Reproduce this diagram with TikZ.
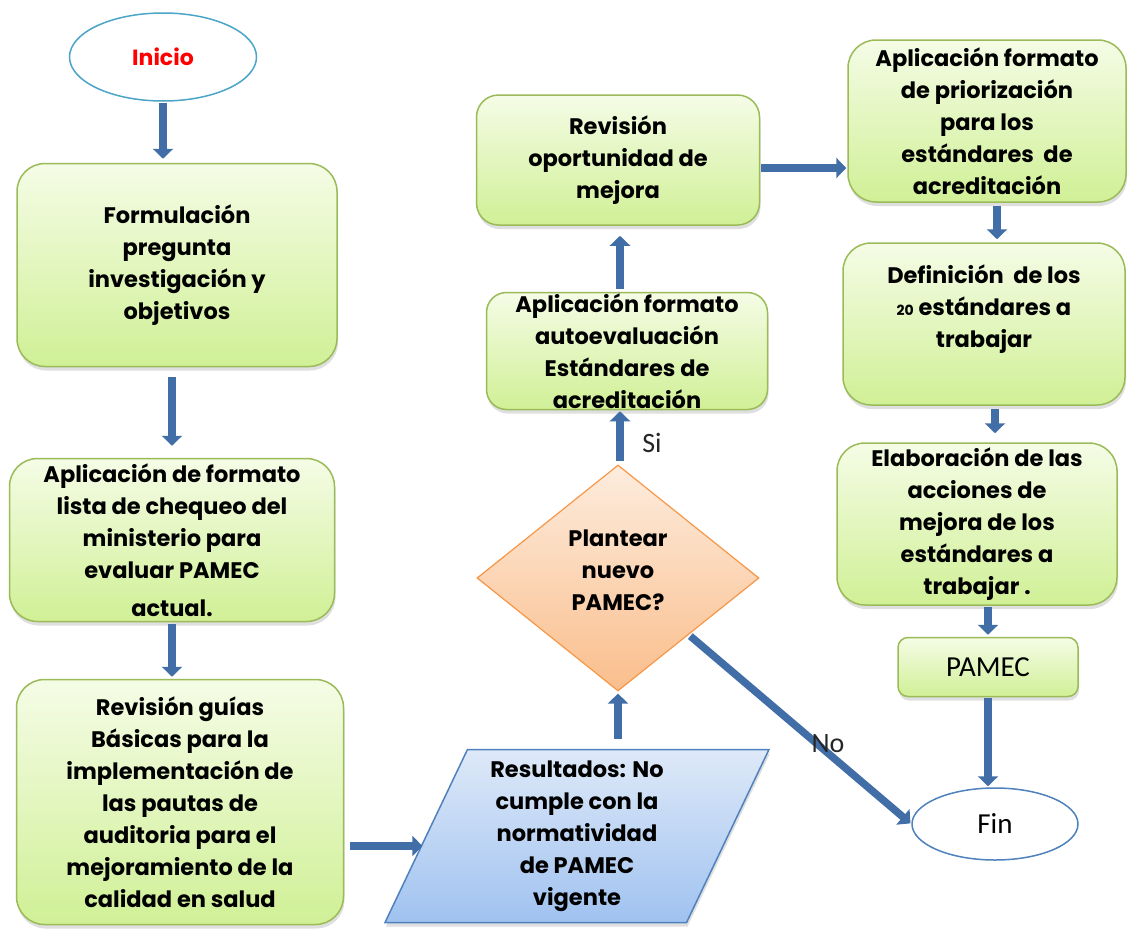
\documentclass[tikz,border=0pt]{standalone}
\usepackage{fontspec}
\newfontfamily\gothic{Poppins}
\newfontfamily\calib{Carlito}
\usetikzlibrary{arrows.meta,shapes.geometric,shadows,calc}
\definecolor{arrblue}{RGB}{66,110,168}
\definecolor{grborder}{RGB}{155,187,89}
\definecolor{grtop}{RGB}{245,252,230}
\definecolor{grbot}{RGB}{208,240,150}
\definecolor{ortop}{RGB}{253,236,222}
\definecolor{orbot}{RGB}{250,190,140}
\definecolor{orborder}{RGB}{247,150,70}
\definecolor{bltop}{RGB}{222,233,248}
\definecolor{blbot}{RGB}{160,194,240}
\definecolor{blborder}{RGB}{79,129,189}
\definecolor{tealb}{RGB}{75,165,200}
\begin{document}
\begin{tikzpicture}[x=1pt,y=-1pt,
  txt/.style={font=\gothic\bfseries\fontsize{22.5}{32}\selectfont, align=center},
  gbox/.style={txt, draw=grborder, line width=1.5pt, top color=grtop, bottom color=grbot,
     rounded corners=28pt, inner sep=0pt,
     drop shadow={opacity=0.25, shadow xshift=1pt, shadow yshift=-4pt}},
  arr/.style={draw=arrblue, line width=7.5pt, -{Triangle[width=20pt,length=10pt]}},
  lbl/.style={font=\calib\fontsize{28}{30}\selectfont, text=black!85}
]
\useasboundingbox (0,0) rectangle (1127,929);
% ---- nodes
\node[ellipse, draw=tealb, line width=1.5pt, fill=white, minimum width=187pt, minimum height=88pt,
  font=\gothic\bfseries\fontsize{22}{24}\selectfont, text=red] (inicio) at (163,57) {Inicio};
\node[gbox, minimum width=320pt, minimum height=203pt] (form) at (177,265)
  {Formulación\\pregunta\\investigación y\\objetivos};
\node[gbox, minimum width=325pt, minimum height=163pt] (lista) at (172,540)
  {Aplicación de formato\\lista de chequeo del\\ministerio para\\evaluar PAMEC\\[6pt]actual.};
\node[gbox, minimum width=327pt, minimum height=245pt] (guias) at (180,802)
  {Revisión guías\\Básicas para la\\implementación de\\las pautas de\\auditoria para el\\mejoramiento de la\\calidad en salud};
\node[txt, trapezium, trapezium left angle=66.6, trapezium right angle=113.4, trapezium stretches=true,
  minimum width=385pt, minimum height=173pt, inner sep=0pt, draw=blborder, line width=1.5pt,
  top color=bltop, bottom color=blbot,
  drop shadow={opacity=0.25, shadow xshift=1pt, shadow yshift=-4pt}] (res) at (577,836)
  {Resultados: No\\cumple con la\\normatividad\\de PAMEC\\vigente};
\node[txt, diamond, minimum width=282pt, minimum height=226pt, inner sep=0pt, draw=orborder, line width=1.2pt,
  top color=ortop, bottom color=orbot] (dia) at (618,578) {};
\node[txt] (diat) at (618,570) {Plantear\\nuevo\\PAMEC?};
\node[gbox, rounded corners=20pt, minimum width=281pt, minimum height=117pt] (auto) at (627,351)
  {Aplicación formato\\autoevaluación\\Estándares de\\acreditación};
\node[gbox, rounded corners=22pt, minimum width=283pt, minimum height=130pt] (oport) at (618,160)
  {Revisión\\oportunidad de\\mejora};
\node[gbox, minimum width=278pt, minimum height=162pt] (prior) at (987,121)
  {Aplicación formato\\de priorización\\para los\\estándares \ de\\acreditación};
\node[gbox, minimum width=282pt, minimum height=162pt] (defin) at (984,324)
  {Definición \ de los\\{\fontsize{14}{14}\selectfont 20} estándares a\\trabajar\\[4pt]};
\node[gbox, minimum width=280pt, minimum height=162pt] (elab) at (977,524)
  {Elaboración de las\\acciones de\\mejora de los\\estándares a\\trabajar .};
\node[gbox, rounded corners=10pt, minimum width=180pt, minimum height=59pt,
  font=\calib\fontsize{29}{30}\selectfont] (pamec) at (988,667) {PAMEC};
\node[ellipse, draw=blborder, line width=1.5pt, fill=white, minimum width=166pt, minimum height=72pt,
  font=\calib\fontsize{29}{30}\selectfont] (fin) at (995,824) {Fin};
% ---- connectors
\draw[arr, shorten <=1pt, shorten >=4pt] (inicio.south) -- (form.north -| inicio.south);
\draw[arr, shorten <=10pt, shorten >=12pt] (lista.north |- form.south) -- (lista.north);
\draw[arr, shorten <=2pt, shorten >=2pt] (lista.south) -- (lista.south |- guias.north);
\draw[arr, shorten <=6pt, shorten >=3pt] ([yshift=-10pt]guias.east |- res.west) -- ([yshift=-10pt]res.west);
\draw[arr, shorten <=10pt, shorten >=2pt] (dia.south |- res.north) -- (dia.south);
\draw[arr, shorten <=3pt, shorten >=1pt] ([xshift=2pt]dia.north) -- ([xshift=2pt]dia.north |- auto.south);
\node[lbl] (si) at (652,443) {Si};
\draw[arr, shorten <=3pt, shorten >=10pt] ([xshift=2pt]oport.south |- auto.north) -- ([xshift=2pt]oport.south);
\draw[arr, shorten <=1pt, shorten >=1pt] ([yshift=-8pt]oport.east) -- ([yshift=-8pt]oport.east -| prior.west);
\draw[arr, shorten <=3pt, shorten >=3pt] ([xshift=10pt]prior.south) -- ([xshift=10pt]prior.south |- defin.north);
\draw[arr, shorten <=3pt, shorten >=9pt] ([xshift=11pt]defin.south) -- ([xshift=11pt]defin.south |- elab.north);
\draw[arr, shorten <=1pt, shorten >=2pt] (pamec.north |- elab.south) -- (pamec.north);
\draw[arr, shorten <=1pt, shorten >=1pt] (pamec.south) -- (pamec.south |- fin.north);
\draw[arr, shorten <=2pt, shorten >=1pt] (dia.south east) -- (fin.west);
\node[lbl] (no) at (828,744) {No};
\end{tikzpicture}
\end{document}
